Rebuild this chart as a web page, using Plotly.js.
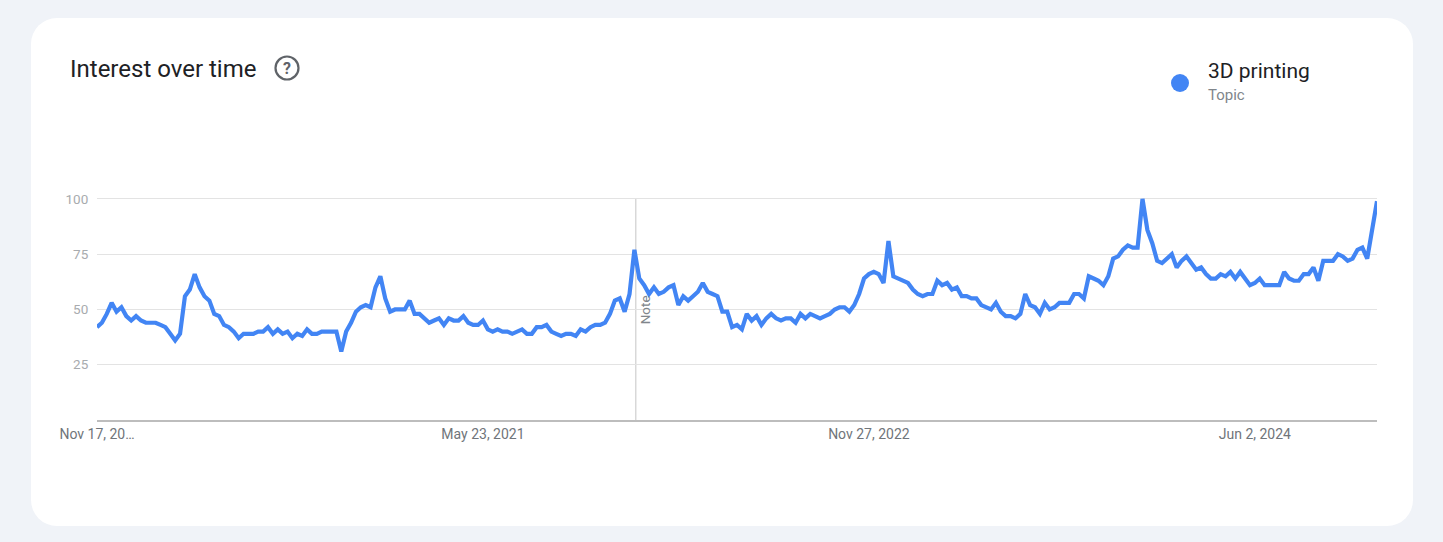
<!DOCTYPE html>
<html>
<head>
<meta charset="utf-8">
<script src="https://cdn.plot.ly/plotly-3.0.1.min.js"></script>
<style>
  html, body { margin: 0; padding: 0; background: #f0f3f8; }
  #wrap { position: relative; width: 1443px; height: 542px; overflow: hidden; }
  #card { position: absolute; left: 31px; top: 18px; width: 1382px; height: 508px; background: #ffffff; border-radius: 26px; }
  #chart { position: absolute; left: 0; top: 0; width: 1443px; height: 542px; }
</style>
</head>
<body>
<div id="wrap">
  <div id="card"></div>
  <div id="chart"></div>
</div>
<script>
// ---- data ----
const startWeek = '2019-11-17';
const seriesName = '3D printing';
const seriesType = 'Topic';
const interest = [
  42, 44, 48, 53, 49, 51, 47, 45, 47, 45,
  44, 44, 44, 43, 42, 39, 36, 39, 56, 59,
  66, 60, 56, 54, 48, 47, 43, 42, 40, 37,
  39, 39, 39, 40, 40, 42, 39, 41, 39, 40,
  37, 39, 38, 41, 39, 39, 40, 40, 40, 40,
  31, 40, 44, 49, 51, 52, 51, 60, 65, 55,
  49, 50, 50, 50, 54, 48, 48, 46, 44, 45,
  46, 43, 46, 45, 45, 47, 44, 43, 43, 45,
  41, 40, 41, 40, 40, 39, 40, 41, 39, 39,
  42, 42, 43, 40, 39, 38, 39, 39, 38, 41,
  40, 42, 43, 43, 44, 48, 54, 55, 49, 57,
  77, 64, 61, 57, 60, 57, 58, 60, 61, 52,
  56, 54, 56, 58, 62, 58, 57, 56, 49, 49,
  42, 43, 41, 48, 45, 47, 43, 46, 48, 46,
  45, 46, 46, 44, 48, 46, 48, 47, 46, 47,
  48, 50, 51, 51, 49, 52, 57, 64, 66, 67,
  66, 62, 81, 65, 64, 63, 62, 59, 57, 56,
  57, 57, 63, 61, 62, 59, 60, 56, 56, 55,
  55, 52, 51, 50, 53, 49, 47, 47, 46, 48,
  57, 52, 51, 48, 53, 50, 51, 53, 53, 53,
  57, 57, 55, 65, 64, 63, 61, 65, 73, 74,
  77, 79, 78, 78, 100, 86, 80, 72, 71, 73,
  75, 69, 72, 74, 71, 68, 69, 66, 64, 64,
  66, 65, 67, 64, 67, 64, 61, 62, 64, 61,
  61, 61, 61, 67, 64, 63, 63, 66, 66, 69,
  63, 72, 72, 72, 75, 74, 72, 73, 77, 78,
  73, 86, 99
];
const xTickVals = ['2019-11-17', '2021-05-23', '2022-11-27', '2024-06-02'];
const xTickText = ['Nov 17, 20\u2026', 'May 23, 2021', 'Nov 27, 2022', 'Jun 2, 2024'];
const yTickVals = [25, 50, 75, 100];
const noteDate = '2021-12-28';

// weekly dates
const weeks = [];
(function () {
  const d0 = new Date(startWeek + 'T00:00:00Z');
  for (let i = 0; i < interest.length; i++) {
    const d = new Date(d0.getTime() + i * 7 * 86400000);
    weeks.push(d.toISOString().slice(0, 10));
  }
})();

const trace = {
  x: weeks,
  y: interest,
  type: 'scatter',
  mode: 'lines',
  line: { color: '#4285f4', width: 4.2, shape: 'linear' },
  hoverinfo: 'x+y',
  showlegend: false
};

const layout = {
  width: 1443,
  height: 542,
  margin: { l: 97, r: 66, t: 189, b: 122, pad: 0 },
  paper_bgcolor: 'rgba(0,0,0,0)',
  plot_bgcolor: 'rgba(0,0,0,0)',
  font: { family: 'Roboto, Arial, sans-serif', color: '#70757a', size: 13 },
  xaxis: {
    type: 'date',
    range: [weeks[0], weeks[weeks.length - 1]],
    tickvals: xTickVals,
    ticktext: xTickText,
    tickfont: { size: 14, color: '#70757a' },
    showgrid: false,
    zeroline: false,
    showline: true,
    linecolor: '#bdbdbd',
    linewidth: 1.5,
    ticks: '',
    fixedrange: true
  },
  yaxis: {
    range: [0, 104.5],
    tickvals: yTickVals,
    ticktext: yTickVals.map(String),
    tickfont: { size: 13.5, color: '#a8abae' },
    showgrid: true,
    gridcolor: '#e3e3e3',
    gridwidth: 1,
    zeroline: false,
    showline: false,
    ticks: 'outside',
    ticklen: 5,
    tickcolor: 'rgba(0,0,0,0)',
    fixedrange: true
  },
  shapes: [
    { type: 'line', xref: 'x', yref: 'y', x0: noteDate, x1: noteDate, y0: 0, y1: 100,
      line: { color: '#cfcfcf', width: 1.2 }, layer: 'below' },
    { type: 'circle', xref: 'paper', yref: 'paper',
      x0: (275.5 - 97) / 1280, x1: (298.5 - 97) / 1280,
      y0: (420 - 79.5) / 231, y1: (420 - 56.5) / 231,
      line: { color: '#5f6368', width: 2.2 }, fillcolor: 'rgba(0,0,0,0)' },
    { type: 'circle', xref: 'paper', yref: 'paper',
      x0: (1171 - 97) / 1280, x1: (1189 - 97) / 1280,
      y0: (420 - 92) / 231, y1: (420 - 74) / 231,
      line: { width: 0 }, fillcolor: '#4285f4' }
  ],
  annotations: [
    { xref: 'paper', yref: 'paper', x: (68 - 97) / 1280, y: (420 - 69) / 231,
      xanchor: 'left', yanchor: 'middle', showarrow: false,
      text: 'Interest over time', font: { family: 'Roboto, Arial, sans-serif', size: 24, color: '#202124' } },
    { xref: 'paper', yref: 'paper', x: (287 - 97) / 1280, y: (420 - 68) / 231,
      xanchor: 'center', yanchor: 'middle', showarrow: false,
      text: '<b>?</b>', font: { family: 'Roboto, Arial, sans-serif', size: 16, color: '#5f6368' } },
    { xref: 'paper', yref: 'paper', x: (1206 - 97) / 1280, y: (420 - 71) / 231,
      xanchor: 'left', yanchor: 'middle', showarrow: false,
      text: seriesName, font: { family: 'Roboto, Arial, sans-serif', size: 21, color: '#202124' } },
    { xref: 'paper', yref: 'paper', x: (1206 - 97) / 1280, y: (420 - 95) / 231,
      xanchor: 'left', yanchor: 'middle', showarrow: false,
      text: seriesType, font: { family: 'Roboto, Arial, sans-serif', size: 15, color: '#80868b' } },
    { xref: 'x', yref: 'y', x: noteDate, y: 50, xshift: 10,
      xanchor: 'center', yanchor: 'middle', showarrow: false, textangle: -90,
      text: 'Note', font: { family: 'Roboto, Arial, sans-serif', size: 13.5, color: '#80868b' } }
  ]
};

Plotly.newPlot('chart', [trace], layout, { displayModeBar: false, staticPlot: false, responsive: false });
</script>
</body>
</html>
